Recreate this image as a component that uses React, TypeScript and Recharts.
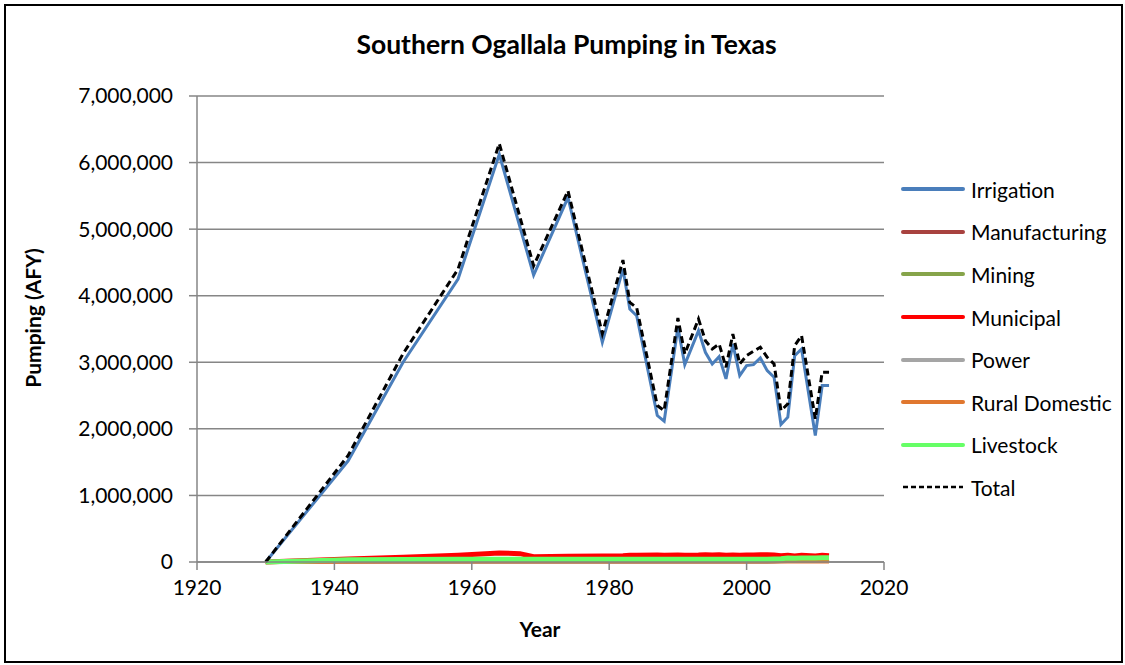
import { CartesianGrid, Line, LineChart, XAxis, YAxis } from "recharts";

const years = [1930, 1942, 1950, 1958, 1964, 1967, 1969, 1974, 1979, 1982, 1983, 1984, 1987, 1988, 1990, 1991, 1993, 1994, 1995, 1996, 1997, 1998, 1999, 2000, 2001, 2002, 2003, 2004, 2005, 2006, 2007, 2008, 2010, 2011, 2012];

const irrigation = [0, 1520000, 3000000, 4250000, 6125000, null, 4310000, 5475000, 3300000, 4400000, 3800000, 3700000, 2200000, 2115000, 3525000, 2965000, 3475000, 3150000, 2975000, 3085000, 2750000, 3275000, 2800000, 2950000, 2965000, 3065000, 2875000, 2775000, 2065000, 2175000, 3100000, 3200000, 1900000, 2650000, 2650000];
const manufacturing = [0, 8000, 10000, 12000, 15000, 15000, 15000, 15000, 15000, 15000, 15000, 15000, 15000, 15000, 15000, 15000, 15000, 15000, 15000, 15000, 15000, 15000, 15000, 15000, 15000, 15000, 15000, 15000, 15000, 15000, 15000, 15000, 15000, 15000, 15000];
const mining = [0, 5000, 8000, 10000, 12000, 12000, 12000, 12000, 12000, 12000, 12000, 12000, 10000, 10000, 10000, 10000, 10000, 10000, 10000, 10000, 10000, 10000, 10000, 10000, 10000, 10000, 10000, 10000, 12000, 12000, 12000, 12000, 12000, 12000, 12000];
const municipal = [0, 45000, 70000, 100000, 135000, 125000, 80000, 85000, 90000, 95000, 100000, 100000, 105000, 100000, 105000, 100000, 105000, 110000, 105000, 110000, 100000, 105000, 100000, 105000, 105000, 110000, 110000, 105000, 95000, 100000, 90000, 100000, 90000, 100000, 95000];
const power = [0, 0, 0, 0, 0, 0, 0, 0, 0, 0, 0, 0, 0, 0, 0, 0, 0, 0, 0, 0, 0, 0, 0, 0, 0, 0, 0, 5000, 10000, 15000, 15000, 15000, 15000, 15000, 15000];
const ruralDomestic = [0, 5000, 6000, 7000, 8000, 8000, 8000, 8000, 8000, 8000, 8000, 8000, 8000, 8000, 8000, 8000, 8000, 8000, 8000, 8000, 8000, 8000, 8000, 8000, 8000, 8000, 8000, 8000, 8000, 8000, 8000, 8000, 8000, 8000, 8000];
const livestock = [0, 35000, 38000, 40000, 40000, 40000, 40000, 40000, 40000, 40000, 40000, 40000, 42000, 42000, 42000, 42000, 43000, 43000, 43000, 43000, 43000, 43000, 43000, 43000, 43000, 43000, 43000, 45000, 48000, 60000, 55000, 60000, 60000, 65000, 65000];
const total = [0, 1600000, 3130000, 4400000, 6285000, null, 4450000, 5575000, 3430000, 4535000, 3900000, 3820000, 2350000, 2275000, 3665000, 3125000, 3650000, 3325000, 3200000, 3275000, 2925000, 3425000, 2975000, 3100000, 3165000, 3225000, 3075000, 2975000, 2275000, 2375000, 3250000, 3400000, 2150000, 2850000, 2850000];

const xTicks = [1920, 1940, 1960, 1980, 2000, 2020];
const yTicks = [0, 1000000, 2000000, 3000000, 4000000, 5000000, 6000000, 7000000];

const SERIES = [
  { key: "Irrigation", values: irrigation, color: "#4a7ebb", dash: undefined, width: 3 },
  { key: "Manufacturing", values: manufacturing, color: "#a8423f", dash: undefined, width: 3 },
  { key: "Mining", values: mining, color: "#86a44a", dash: undefined, width: 3 },
  { key: "Municipal", values: municipal, color: "#ff0000", dash: undefined, width: 5 },
  { key: "Power", values: power, color: "#a5a5a5", dash: undefined, width: 4 },
  { key: "Rural Domestic", values: ruralDomestic, color: "#e0772f", dash: undefined, width: 4 },
  { key: "Livestock", values: livestock, color: "#66ff66", dash: undefined, width: 5 },
  { key: "Total", values: total, color: "#000000", dash: "7 4", width: 3 },
];

const rows = years.map((year, i) => {
  const r: Record<string, number | null> = { year };
  SERIES.forEach((s) => { r[s.key] = s.values[i]; });
  return r;
});

const FONT = "Lato, 'Open Sans', sans-serif";
const gray = "#868686";
const fmt = (v: number) => v.toLocaleString("en-US");

function LegendBox() {
  return (
    <div style={{ position: "absolute", left: 901, top: 168, fontFamily: FONT, fontSize: 21, color: "#000" }}>
      {SERIES.map((s) => (
        <div key={s.key} style={{ display: "flex", alignItems: "center", height: 42.6 }}>
          <svg width={64} height={8} style={{ marginRight: 6 }}>
            <line x1={2} y1={4} x2={62} y2={4} stroke={s.color} strokeWidth={s.dash ? 2.5 : 4}
              strokeDasharray={s.dash ? "5 3" : undefined} strokeLinecap={s.dash ? "butt" : "round"} />
          </svg>
          <span>{s.key}</span>
        </div>
      ))}
    </div>
  );
}

export default function App() {
  return (
    <div style={{ position: "fixed", left: 0, top: 0, width: 1125, height: 665, background: "#fff" }}>
      <div style={{ position: "absolute", left: 4, top: 4, width: 1115, height: 655, border: "2px solid #000" }} />
      <div style={{ position: "absolute", left: 0, width: 1125, top: 28, textAlign: "center", paddingLeft: 8, boxSizing: "border-box",
        fontFamily: FONT, fontWeight: 700, fontSize: 26.5, lineHeight: "32px", color: "#000" }}>
        Southern Ogallala Pumping in Texas
      </div>
      <div style={{ position: "absolute", left: 40, top: 616, width: 1000, textAlign: "center",
        fontFamily: FONT, fontWeight: 700, fontSize: 21, lineHeight: "26px", color: "#000" }}>
        Year
      </div>
      <div style={{ position: "absolute", left: 33, top: 318, width: 0, height: 0 }}>
        <div style={{ position: "absolute", left: -150, top: -13, width: 300, textAlign: "center", transform: "rotate(-90deg)",
          fontFamily: FONT, fontWeight: 700, fontSize: 21, lineHeight: "26px", color: "#000" }}>
          Pumping (AFY)
        </div>
      </div>
      <LineChart width={1125} height={665} data={rows} margin={{ top: 96, right: 241, bottom: 73, left: 97 }}
        style={{ position: "absolute", left: 0, top: 0 }}>
        <CartesianGrid vertical={false} stroke={gray} strokeWidth={1.5} />
        <XAxis dataKey="year" type="number" domain={[1920, 2020]} ticks={xTicks} allowDataOverflow
          stroke={gray} strokeWidth={1.5} tickSize={8} tickMargin={10} height={30}
          tick={{ fill: "#000", fontSize: 21, fontFamily: FONT }} />
        <YAxis type="number" domain={[0, 7000000]} ticks={yTicks} tickFormatter={fmt} width={100}
          stroke={gray} strokeWidth={1.5} tickSize={8} tickMargin={16}
          tick={{ fill: "#000", fontSize: 21, fontFamily: FONT }} />
        {SERIES.map((s) => (
          <Line key={s.key} type="linear" dataKey={s.key} stroke={s.color} strokeWidth={s.width}
            strokeDasharray={s.dash} dot={false} activeDot={false} connectNulls isAnimationActive={false} />
        ))}
      </LineChart>
      <LegendBox />
    </div>
  );
}
